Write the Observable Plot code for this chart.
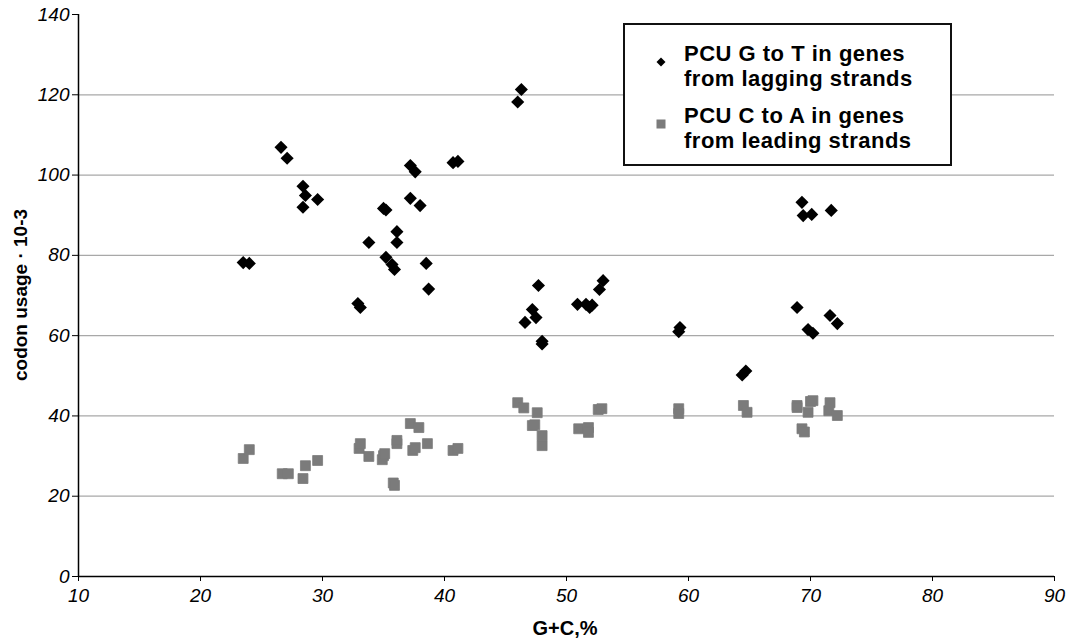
<!DOCTYPE html>
<html>
<head>
<meta charset="utf-8">
<script src="https://cdn.jsdelivr.net/npm/d3@7"></script>
<script src="https://cdn.jsdelivr.net/npm/@observablehq/plot@0.6"></script>
<style>
  body { margin: 0; background: #fff; font-family: "Liberation Sans", Arial, sans-serif; }
  #wrap { position: relative; width: 1067px; height: 644px; }
  #legend {
    position: absolute; left: 623px; top: 23px; width: 325px; height: 139px;
    border: 2px solid #111; background: #fff; box-sizing: content-box;
    font-family: "Liberation Sans", Arial, sans-serif; font-weight: bold; font-size: 22px;
    letter-spacing: 0.5px; line-height: 25px; color: #000;
  }
  .item { position: absolute; left: 59px; white-space: nowrap; }
  .sw { position: absolute; left: -29px; top: 7px; }
  g[aria-label="y-axis tick label"], g[aria-label="x-axis tick label"] { font-size: 19px; font-style: italic; }
</style>
</head>
<body>
<div id="wrap"></div>
<script>
// G+C content (%) for genes from lagging strands, and PCU G to T
const gcLagging = [23.5,24.0,26.6,27.1,28.4,28.6,28.4,29.6,32.9,33.1,33.8,35.0,35.2,35.2,35.7,35.9,36.1,36.1,37.2,37.6,37.2,38.0,38.5,38.7,40.7,41.1,46.0,46.3,46.6,47.2,47.5,47.7,48.0,48.0,50.9,51.6,51.9,52.1,52.7,53.0,59.2,59.3,64.4,64.7,68.9,69.3,69.4,70.1,69.8,70.2,71.6,71.7,72.2];
const pcuGtoT   = [78.2,78.0,106.9,104.2,97.2,94.9,92.0,93.9,68.0,67.0,83.2,91.7,91.3,79.5,77.7,76.5,85.9,83.2,102.4,100.8,94.2,92.4,78.0,71.6,103.1,103.4,118.2,121.3,63.3,66.5,64.5,72.5,58.6,57.9,67.8,67.8,67.0,67.6,71.5,73.7,61.0,62.0,50.2,51.2,67.0,93.2,89.9,90.2,61.5,60.6,65.0,91.2,63.0];
// G+C content (%) for genes from leading strands, and PCU C to A
const gcLeading = [23.5,24.0,26.7,27.2,28.4,28.6,29.6,33.0,33.1,33.8,34.9,35.0,35.1,35.8,35.9,36.1,36.1,37.2,37.4,37.6,37.9,38.6,40.7,41.1,46.0,46.5,47.2,47.4,47.6,48.0,48.0,51.0,51.8,51.8,52.6,52.9,59.2,59.2,64.5,64.8,68.9,68.9,69.3,69.5,69.8,70.0,70.2,71.5,71.6,72.2];
const pcuCtoA   = [29.4,31.6,25.6,25.6,24.4,27.6,28.9,31.9,33.1,29.9,29.1,30.1,30.6,23.3,22.7,33.1,33.9,38.1,31.4,32.1,37.1,33.1,31.4,31.9,43.3,42.0,37.6,37.8,40.8,35.1,32.6,36.8,37.1,35.9,41.6,41.8,41.8,40.6,42.6,40.9,42.6,42.1,36.8,36.0,40.9,43.6,43.8,41.3,43.3,40.1];
const xTicks = [10,20,30,40,50,60,70,80,90];
const yTicks = [0,20,40,60,80,100,120,140];
const gridY = [20,40,60,80,100,120];
const xTitle = "G+C,%";
const yTitle = "codon usage · 10-3";
const seriesNames = ["PCU G to T in genes\nfrom lagging strands", "PCU C to A in genes\nfrom leading strands"];

const lagging = gcLagging.map((x, i) => ({x, y: pcuGtoT[i]}));
const leading = gcLeading.map((x, i) => ({x, y: pcuCtoA[i]}));

const font = "'Liberation Sans', Arial, sans-serif";
const chart = Plot.plot({
  width: 1067,
  height: 644,
  marginLeft: 78,
  marginRight: 13,
  marginTop: 14,
  marginBottom: 68,
  style: {fontFamily: font, background: "#fff", color: "#000", overflow: "visible"},
  x: {domain: [10, 90]},
  y: {domain: [0, 140]},
  marks: [
    Plot.ruleY(gridY, {stroke: "#a8a8a8", strokeWidth: 1.2}),
    Plot.axisY({ticks: yTicks, tickSize: 6, tickPadding: 3, fontSize: 19, fontStyle: "italic", label: null}),
    Plot.axisX({ticks: xTicks, tickSize: 5, tickPadding: 7, fontSize: 19, fontStyle: "italic", label: null}),
    Plot.ruleX([10], {stroke: "#000", strokeWidth: 1.5}),
    Plot.ruleY([0], {stroke: "#000", strokeWidth: 1.5}),
    Plot.dot(leading, {x: "x", y: "y", symbol: "square", r: 5.6, fill: "#7b7b7b", stroke: "#7b7b7b", strokeWidth: 0.8, strokeLinejoin: "round"}),
    Plot.dot(lagging, {x: "x", y: "y", symbol: "diamond2", r: 5.9, fill: "#000", stroke: "none"})
  ]
});
// enforce tick label font size
chart.querySelectorAll("g[aria-label='y-axis tick label'], g[aria-label='x-axis tick label']").forEach(g => {
  g.setAttribute("font-size", "19");
  g.setAttribute("font-style", "italic");
});
// axis titles
const svg = d3.select(chart);
svg.append("text")
  .attr("x", 565).attr("y", 635)
  .attr("text-anchor", "middle")
  .attr("font-family", font).attr("font-weight", "bold").attr("font-size", 20)
  .text(xTitle);
svg.append("text")
  .attr("transform", "translate(27,295) rotate(-90)")
  .attr("text-anchor", "middle")
  .attr("font-family", font).attr("font-weight", "bold").attr("font-size", 19)
  .text(yTitle);
document.getElementById("wrap").appendChild(chart);

// legend
const legend = document.createElement("div");
legend.id = "legend";
const swatches = [
  '<svg width="12" height="12"><path d="M6,1.5L10.5,6L6,10.5L1.5,6Z" fill="#000"/></svg>',
  '<svg width="12" height="12"><rect x="1.5" y="1.5" width="9" height="9" fill="#7b7b7b"/></svg>'
];
seriesNames.forEach((name, i) => {
  const item = document.createElement("div");
  item.className = "item";
  item.style.top = (i === 0 ? 16 : 78) + "px";
  item.innerHTML = '<span class="sw">' + swatches[i] + '</span>' + name.split("\n").join("<br>");
  legend.appendChild(item);
});
document.getElementById("wrap").appendChild(legend);
</script>
</body>
</html>
